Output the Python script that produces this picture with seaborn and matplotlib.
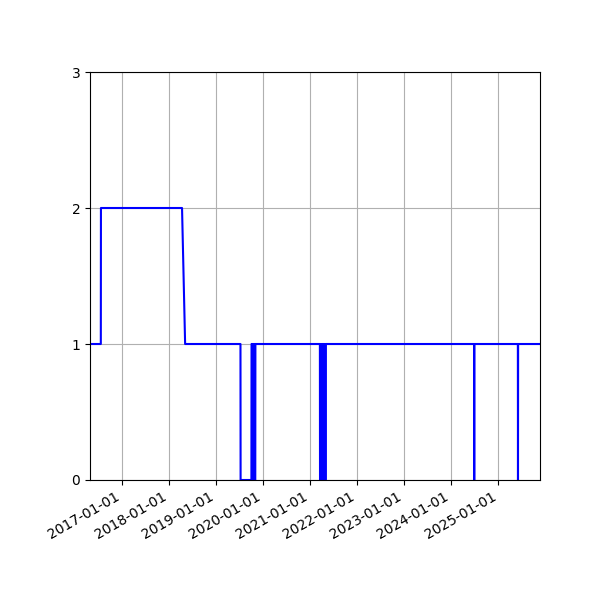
import pandas as pd
import matplotlib
matplotlib.use('Agg')
import matplotlib.pyplot as plt
import matplotlib.dates as mdates
import seaborn as sns

# Readings at each change of state (0 / 1 / 2)
dates = [
    '2016-04-26', '2016-07-19', '2016-07-20', '2018-04-11', '2018-05-05',
    '2019-07-09', '2019-07-10', '2019-10-02', '2019-10-03', '2019-10-07',
    '2019-10-08', '2019-10-12', '2019-10-13', '2019-10-17', '2019-10-18',
    '2019-10-22', '2019-10-23', '2019-10-27', '2019-10-28', '2019-11-01',
    '2019-11-02',
    '2021-03-17', '2021-03-18', '2021-03-22', '2021-03-23', '2021-03-27',
    '2021-03-28', '2021-04-01', '2021-04-02', '2021-04-06', '2021-04-07',
    '2021-04-11', '2021-04-12', '2021-04-16', '2021-04-17', '2021-04-21',
    '2021-04-22', '2021-04-26', '2021-04-27', '2021-05-01', '2021-05-02',
    '2024-06-27', '2024-06-28', '2024-06-29',
    '2025-06-02', '2025-06-03', '2025-06-04',
    '2025-11-21',
]
values = [
    1, 1, 2, 2, 1,
    1, 0, 0, 1, 1,
    0, 0, 1, 1, 0,
    0, 1, 1, 0, 0,
    1,
    1, 0, 0, 1, 1,
    0, 0, 1, 1, 0,
    0, 1, 1, 0, 0,
    1, 1, 0, 0, 1,
    1, 0, 1,
    1, 0, 1,
    1,
]

df = pd.DataFrame({'date': pd.to_datetime(dates), 'value': values})

fig, ax = plt.subplots(figsize=(6, 6), dpi=100)
sns.lineplot(data=df, x='date', y='value', color='blue', linewidth=1.5,
             estimator=None, ax=ax)

ax.set_xlim(df['date'].min(), df['date'].max())
ax.set_ylim(0, 3)
ax.set_yticks([0, 1, 2, 3])
ax.xaxis.set_major_locator(mdates.YearLocator())
ax.xaxis.set_major_formatter(mdates.DateFormatter('%Y-%m-%d'))
ax.set(xlabel='', ylabel='')
ax.grid(True)
fig.autofmt_xdate()
fig.subplots_adjust(left=0.15, right=0.9, top=0.88, bottom=0.2)

plt.savefig('out.png')
